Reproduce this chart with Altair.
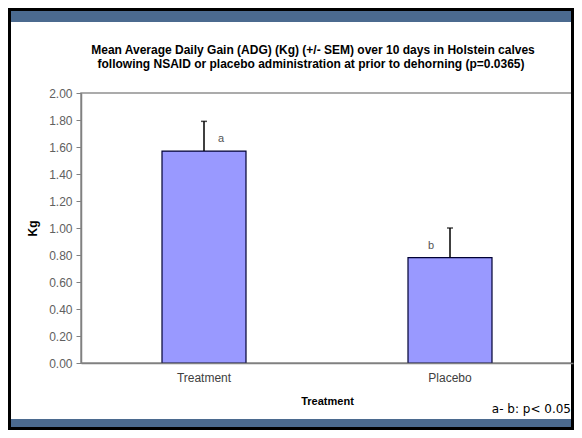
import altair as alt
import pandas as pd

categories = ["Treatment", "Placebo"]
means = [1.57, 0.78]
sems = [0.22, 0.22]
letters = ["a", "b"]
y_ticks = [0.0, 0.2, 0.4, 0.6, 0.8, 1.0, 1.2, 1.4, 1.6, 1.8, 2.0]
title_line1 = "Mean Average Daily Gain (ADG) (Kg) (+/- SEM) over 10 days in Holstein calves"
title_line2 = "following NSAID or placebo administration at prior to dehorning (p=0.0365)"
note_text = "a- b: p< 0.05"
x_title = "Treatment"
y_title = "Kg"

df = pd.DataFrame({
    "group": categories,
    "mean": means,
    "upper": [m + s for m, s in zip(means, sems)],
    "letter": letters,
})

FONT = "Liberation Sans"
BAND = "#4B6A8F"

x_axis = alt.Axis(
    title=x_title, labelAngle=0, ticks=False, labelPadding=9,
    labelFont=FONT, labelFontSize=12, labelColor="#404040",
    titleFont=FONT, titleFontSize=11, titleFontWeight="bold", titleColor="#000000",
    titleY=38, titleBaseline="middle",
    domainColor="#808080", domainWidth=1.5, zindex=1,
)
x_scale = alt.Scale(paddingInner=0, paddingOuter=0)
y_axis = alt.Axis(
    title=y_title, values=y_ticks, tickCount=11, format=".2f", grid=False,
    labelOverlap=False, labelBound=False, labelFlush=False,
    labelFont=FONT, labelFontSize=12, labelColor="#606060", labelPadding=4,
    tickSize=5, tickColor="#808080", domainColor="#808080", domainWidth=1.5,
    titleFont=FONT, titleFontSize=12, titleFontWeight="bold", titleColor="#000000",
    titleX=-49, titleY=135, titleBaseline="middle", titleAlign="center", zindex=1,
)
y_scale = alt.Scale(domain=[0, 2], nice=False)


def xe():
    return alt.X("group:N", sort=categories, scale=x_scale, axis=x_axis)


def ye(field):
    return alt.Y(field, type="quantitative", scale=y_scale, axis=y_axis, title=y_title)


base = alt.Chart(df)

bars = base.mark_bar(size=84, color="#9999FF", stroke="#000033", strokeWidth=1.2).encode(
    x=xe(), y=ye("mean")
)
err = base.mark_rule(color="#000000", strokeWidth=1.5).encode(
    x=xe(), y=ye("mean"), y2="upper:Q"
)
cap = base.mark_tick(color="#000000", size=6, thickness=1.5, orient="horizontal").encode(
    x=xe(), y=ye("upper")
)
lab_a = base.transform_filter(alt.datum.letter == "a").mark_text(
    dx=17, dy=-12, font=FONT, fontSize=11, color="#555555"
).encode(x=xe(), y=ye("mean"), text="letter:N")
lab_b = base.transform_filter(alt.datum.letter == "b").mark_text(
    dx=-19, dy=-12, font=FONT, fontSize=11, color="#555555"
).encode(x=xe(), y=ye("mean"), text="letter:N")

deco = pd.DataFrame({"k": [0]})
top_band = alt.Chart(deco).mark_rect(color=BAND, clip=False).encode(
    x=alt.value(-73), x2=alt.value(493), y=alt.value(-85), y2=alt.value(-71)
)
bottom_band = alt.Chart(deco).mark_rect(color=BAND, clip=False).encode(
    x=alt.value(-73), x2=alt.value(493), y=alt.value(326), y2=alt.value(337)
)
border = alt.Chart(deco).mark_rect(
    fillOpacity=0, stroke="#000000", strokeWidth=3, clip=False
).encode(
    x=alt.value(-71.5), x2=alt.value(491.5), y=alt.value(-83.5), y2=alt.value(335.5)
)
title1 = alt.Chart(pd.DataFrame({"t": [title_line1]})).mark_text(
    font=FONT, fontSize=12, fontWeight="bold", color="#000000", align="center",
    baseline="middle", clip=False
).encode(x=alt.value(232), y=alt.value(-43), text="t:N")
title2 = alt.Chart(pd.DataFrame({"t": [title_line2]})).mark_text(
    font=FONT, fontSize=12, fontWeight="bold", color="#000000", align="center",
    baseline="middle", clip=False
).encode(x=alt.value(230), y=alt.value(-29), text="t:N")
note = alt.Chart(pd.DataFrame({"t": [note_text]})).mark_text(
    font="DejaVu Sans", fontSize=12, color="#000000", align="right", baseline="middle", clip=False
).encode(x=alt.value(490), y=alt.value(316), text="t:N")

chart = alt.layer(
    top_band, bottom_band, bars, err, cap, lab_a, lab_b, title1, title2, note, border
).properties(
    width=492, height=270,
    autosize=alt.AutoSizeParams(type="none"),
    padding={"left": 73, "top": 85, "right": 1, "bottom": 67},
    background="white",
).configure_view(stroke="#909090", strokeWidth=1.5)

chart.save("out.html", embed_options={"renderer": "svg", "actions": False})
